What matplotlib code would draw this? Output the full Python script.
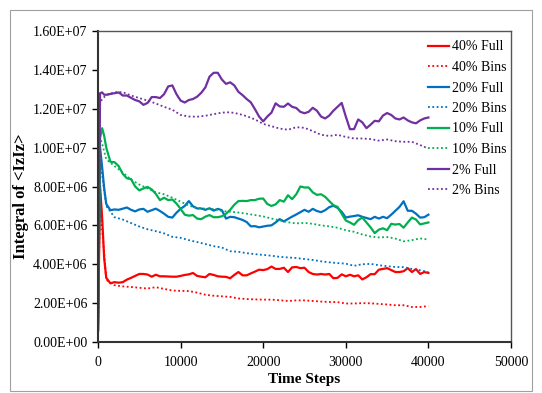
import matplotlib
matplotlib.use("Agg")
import matplotlib.pyplot as plt
from matplotlib.patches import Rectangle

# Integral of <IzIz> over time, full run vs binned estimate, values in units of 1e6
SCALE = 1e6

steps_full = [0, 250, 500, 750] + list(range(1000, 40001, 500))
steps_bins = [0, 250, 500] + list(range(1000, 40001, 1000))

full_40 = [0.6, 8.0, 6.4, 4.3,
           3.3, 3.02, 3.08, 3.05, 3.08, 3.21, 3.3, 3.4, 3.5, 3.5,
           3.47, 3.36, 3.46, 3.38, 3.38, 3.37, 3.36, 3.36, 3.4, 3.45,
           3.48, 3.55, 3.4, 3.36, 3.33, 3.5, 3.45, 3.38, 3.36, 3.35,
           3.28, 3.45, 3.6, 3.43, 3.43, 3.53, 3.62, 3.72, 3.7, 3.75,
           3.88, 3.76, 3.76, 3.82, 3.6, 3.84, 3.86, 3.8, 3.82, 3.6,
           3.5, 3.47, 3.5, 3.47, 3.5, 3.28, 3.3, 3.48, 3.38, 3.46,
           3.38, 3.43, 3.22, 3.33, 3.49, 3.49, 3.72, 3.76, 3.8, 3.7,
           3.6, 3.6, 3.64, 3.8, 3.6, 3.75, 3.5, 3.6, 3.55]
bins_40 = [0.6, 7.9, 5.8,
           3.2, 2.92, 2.86, 2.83, 2.79, 2.75, 2.82, 2.73, 2.65, 2.63,
           2.62, 2.54, 2.43, 2.38, 2.35, 2.32, 2.24, 2.21, 2.19, 2.18,
           2.18, 2.15, 2.11, 2.14, 2.14, 2.11, 2.08, 2.06, 2.05, 1.98,
           1.98, 2.0, 1.99, 1.96, 1.93, 1.89, 1.89, 1.8, 1.8, 1.85]

full_20 = [0.6, 10.0, 9.0, 7.9,
           7.1, 6.78, 6.82, 6.8, 6.86, 6.92, 6.8, 6.72, 6.82, 6.85,
           6.7, 6.78, 6.86, 6.74, 6.6, 6.44, 6.4, 6.65, 6.85, 7.0,
           7.25, 6.98, 6.87, 6.87, 6.8, 6.88, 6.76, 6.85, 6.78, 6.35,
           6.44, 6.42, 6.35, 6.28, 6.17, 5.95, 5.96, 5.9, 5.94, 5.98,
           6.0, 6.15, 6.32, 6.2, 6.33, 6.45, 6.56, 6.68, 6.8, 6.7,
           6.85, 6.74, 6.68, 6.78, 6.94, 7.01, 6.9, 6.7, 6.4, 6.45,
           6.48, 6.52, 6.44, 6.38, 6.32, 6.44, 6.35, 6.44, 6.37, 6.55,
           6.75, 6.95, 7.24, 6.75, 6.75, 6.6, 6.4, 6.42, 6.55]
bins_20 = [0.6, 9.8, 8.6,
           7.0, 6.42, 6.3, 6.12, 5.94, 5.8, 5.7, 5.59, 5.41, 5.36,
           5.24, 5.14, 5.04, 4.93, 4.86, 4.67, 4.64, 4.57, 4.52, 4.48,
           4.44, 4.38, 4.35, 4.32, 4.27, 4.22, 4.15, 4.1, 4.06, 4.03,
           3.92, 4.0, 4.02, 3.95, 3.9, 3.86, 3.85, 3.76, 3.69, 3.6]

full_10 = [0.6, 10.5, 11.0, 10.6,
           10.0, 9.27, 9.25, 9.05, 8.65, 8.42, 8.38, 8.0, 7.8, 7.9,
           7.98, 7.85, 7.62, 7.3, 7.42, 7.3, 7.33, 7.12, 6.85, 6.55,
           6.5, 6.53, 6.35, 6.32, 6.45, 6.53, 6.42, 6.42, 6.47, 6.6,
           6.8, 7.06, 7.25, 7.26, 7.25, 7.3, 7.3, 7.37, 7.38, 7.1,
           7.0, 7.08, 7.3, 7.22, 7.55, 7.35, 7.6, 8.0, 7.95, 7.95,
           7.7, 7.57, 7.6, 7.47, 7.25, 7.04, 6.95, 6.6, 6.25, 6.15,
           6.03, 6.27, 6.4, 6.15, 5.9, 5.6, 5.78, 5.85, 5.75, 6.08,
           6.04, 6.07, 5.88, 6.15, 6.4, 6.3, 6.05, 6.1, 6.15]
bins_10 = [0.6, 10.5, 10.2,
           9.4, 9.05, 8.72, 8.35, 8.1, 7.9, 7.7, 7.6, 7.42, 7.22,
           7.02, 6.9, 6.86, 6.84, 6.74, 6.7, 6.66, 6.6, 6.53, 6.46,
           6.35, 6.26, 6.16, 6.1, 6.13, 6.08, 6.0, 5.95, 5.88, 5.75,
           5.67, 5.53, 5.43, 5.38, 5.4, 5.32, 5.18, 5.24, 5.33, 5.27]

full_2 = [0.6, 12.8, 12.84, 12.72,
          12.72, 12.76, 12.8, 12.84, 12.68, 12.68, 12.56, 12.45, 12.38, 12.2,
          12.3, 12.6, 12.6, 12.55, 12.75, 13.15, 13.2, 12.75, 12.42, 12.32,
          12.45, 12.5, 12.62, 12.82, 13.1, 13.65, 13.85, 13.85, 13.5, 13.28,
          13.36, 13.2, 12.87, 12.7, 12.5, 12.33, 11.98, 11.6, 11.35, 11.6,
          11.8, 12.28, 12.12, 12.1, 12.27, 12.1, 12.04, 11.84, 11.77, 11.84,
          12.05, 11.9, 11.6, 11.5, 11.65, 11.9, 12.1, 12.3, 11.6, 10.95,
          10.95, 11.45, 11.3, 11.0, 11.18, 11.38, 11.35, 11.65, 11.78, 11.68,
          11.5, 11.45, 11.55, 11.4, 11.3, 11.25, 11.4, 11.5, 11.55]
bins_2 = [0.6, 12.3, 12.5,
          12.7, 12.85, 12.85, 12.68, 12.55, 12.42, 12.27, 12.1, 11.95, 11.68,
          11.6, 11.59, 11.64, 11.72, 11.8, 11.82, 11.74, 11.62, 11.45, 11.22,
          11.1, 10.98, 10.92, 11.05, 11.02, 10.85, 10.66, 10.6, 10.66, 10.55,
          10.47, 10.47, 10.44, 10.36, 10.42, 10.33, 10.3, 10.3, 10.13, 9.95]

series = [
    ("40%", full_40, bins_40, "#FF0000"),
    ("20%", full_20, bins_20, "#0070C0"),
    ("10%", full_10, bins_10, "#00B050"),
    ("2%", full_2, bins_2, "#7030A0"),
]

plt.rcParams["font.family"] = ["Liberation Serif", "DejaVu Serif"]

fig = plt.figure(figsize=(5.42, 3.93), dpi=100)
ax = fig.add_axes([98 / 542, 1 - 342 / 393, 413 / 542, 311 / 393])

for name, full, bins, color in series:
    ax.plot(steps_full, [v * SCALE for v in full], color=color, lw=1.6,
            label=f"{name} Full", solid_joinstyle="round")
    ax.plot(steps_bins, [v * SCALE for v in bins], color=color, lw=1.3,
            linestyle=(0, (1, 1.4)), label=f"{name} Bins")

ax.set_xlim(0, 50000)
ax.set_ylim(0, 1.6e7)
ax.set_xticks(range(0, 50001, 10000))
ax.set_yticks([i * 2e6 for i in range(9)])
ax.yaxis.set_major_formatter(plt.FuncFormatter(lambda v, _: f"{v:.2E}"))
ax.tick_params(labelsize=10, direction="out", length=4, width=1, colors="black")
ax.tick_params(axis="x", pad=6)

for side in ("left", "bottom"):
    ax.spines[side].set_linewidth(1.5)
    ax.spines[side].set_color("#333333")
for side in ("top", "right"):
    ax.spines[side].set_linewidth(1)
    ax.spines[side].set_color("#555555")

ax.set_xlabel("Time Steps", fontsize=11, fontweight="bold", labelpad=3)
ax.set_ylabel("Integral of <IzIz>", fontsize=12, fontweight="bold")
ax.yaxis.set_label_coords(-0.168, 0.47)

ax.legend(loc="upper left", bbox_to_anchor=(428 / 542, 1 - 40.5 / 393),
          bbox_transform=fig.transFigure, frameon=False, fontsize=10,
          handlelength=1.5, handletextpad=0.2, labelspacing=0.54,
          borderpad=0, borderaxespad=0)

# chart area border
fig.patches.append(Rectangle((10 / 542, 2 / 393), 522 / 542, 381 / 393,
                             transform=fig.transFigure, fill=False,
                             edgecolor="#A0A0A0", lw=0.8))

fig.savefig("out.png", dpi=100)
